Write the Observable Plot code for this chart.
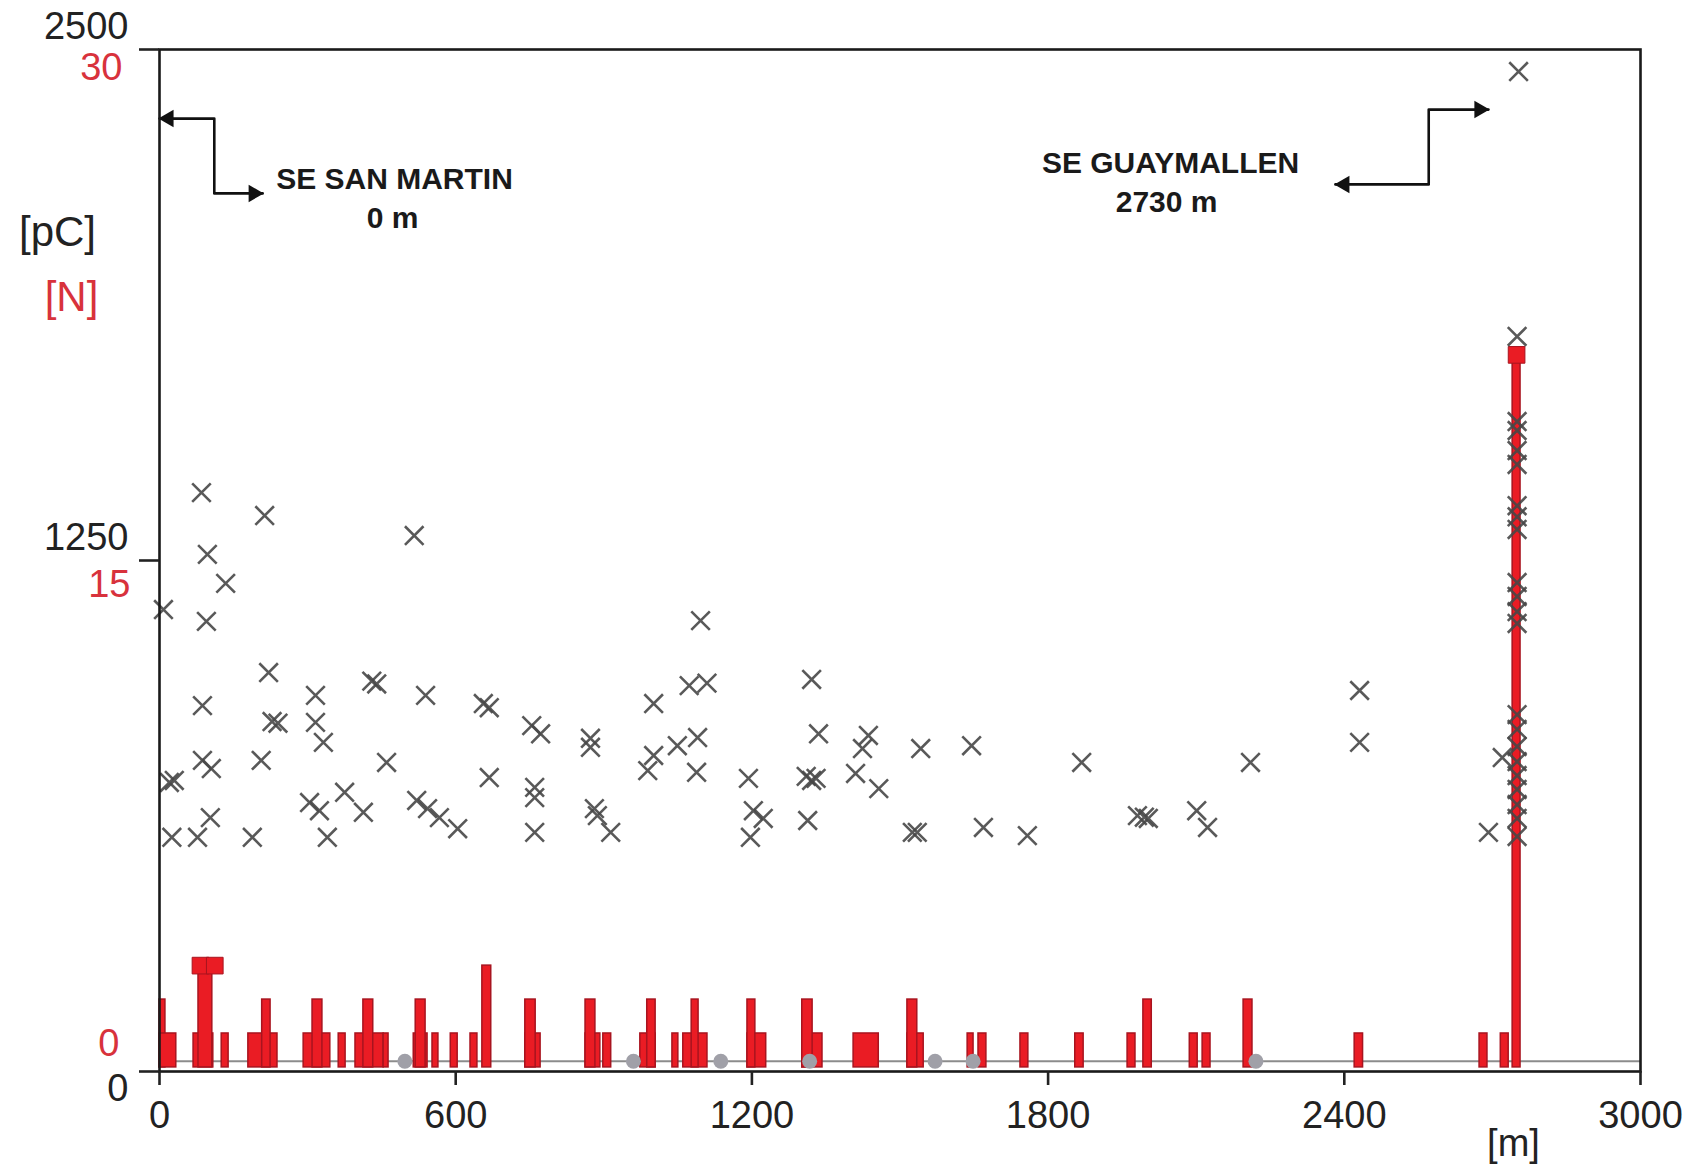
<!DOCTYPE html>
<html>
<head>
<meta charset="utf-8">
<script src="https://cdn.jsdelivr.net/npm/d3@7"></script>
<script src="https://cdn.jsdelivr.net/npm/@observablehq/plot@0.6"></script>
<style>
  html, body { margin: 0; padding: 0; background: #fff; }
  #chart svg { display: block; }
</style>
</head>
<body>
<div id="chart"></div>
<script>
// ---------- tick values ----------
const xTicks = [0, 600, 1200, 1800, 2400, 3000];
const pcTicks = [0, 1250, 2500];
const nTicks = [0, 15, 30];

// ---------- red bars: number of discharges [N] per location ----------
const barX1 = [0, 0, 69, 79, 126, 180, 208, 292, 310, 363, 397, 413, 454, 515, 519, 553, 590, 630, 654,
  741, 741, 863, 863, 899, 974, 988, 1039, 1061, 1078, 1191, 1191, 1302, 1302, 1406, 1515, 1515,
  1637, 1659, 1744, 1855, 1961, 1993, 2087, 2113, 2196, 2421, 2674, 2717, 2741];
const barX2 = [12, 34, 109, 107, 140, 239, 225, 346, 330, 377, 454, 433, 464, 543, 539, 565, 604, 644, 672,
  772, 762, 893, 883, 915, 1005, 1005, 1051, 1110, 1092, 1229, 1207, 1343, 1323, 1457, 1548, 1535,
  1649, 1675, 1760, 1872, 1977, 2010, 2103, 2129, 2214, 2438, 2690, 2733, 2757];
const barN = [2, 1, 1, 3, 1, 1, 2, 1, 2, 1, 1, 2, 1, 1, 2, 1, 1, 1, 3,
  1, 2, 1, 2, 1, 1, 2, 1, 1, 2, 1, 2, 1, 2, 1, 1, 2,
  1, 1, 1, 1, 1, 2, 1, 1, 2, 1, 1, 1, 21];
// square markers on top of the highest bars
const capX = [83, 112, 2749];
const capN = [3, 3, 21];

// ---------- discharge magnitudes [pC] ----------
const dischargeX = [85, 213, 516, 97, 134, 8, 95, 1096, 221, 430, 440, 1073, 1109, 1321, 316, 539, 656, 668,
  1001, 87, 228, 240, 316, 332, 754, 772, 873, 873, 1090, 1049, 1335, 1436, 1424, 87, 105, 206, 460,
  1001, 989, 1088, 20, 30, 668, 1193, 1310, 1321, 1330, 1410, 1457, 375, 304, 324, 413, 521, 543, 567,
  604, 760, 760, 760, 881, 887, 914, 1203, 1223, 1197, 1313, 103, 25, 77, 188, 340,
  1542, 1645, 1868, 2210, 2431, 2431, 1525, 1535, 1669, 1758, 1981, 2003, 1995, 2101, 2123, 2692, 2720,
  2753, 2750, 2750, 2750, 2750, 2750, 2750, 2750, 2750, 2750, 2750, 2750, 2750, 2750, 2750, 2750, 2750,
  2750, 2750, 2750, 2750, 2750];
const dischargePC = [1416, 1360, 1311, 1265, 1194, 1130, 1101, 1103, 976, 955, 948, 944, 950, 959, 920, 920, 900, 890,
  900, 895, 856, 852, 854, 805, 846, 826, 815, 793, 817, 797, 826, 822, 790, 761, 741, 761, 756,
  773, 736, 732, 707, 712, 719, 717, 722, 712, 717, 729, 692, 683, 658, 638, 634, 663, 643, 621,
  594, 695, 670, 585, 643, 626, 585, 638, 619, 573, 614, 621, 573, 573, 573, 573,
  790, 797, 756, 756, 932, 805, 585, 585, 597, 577, 626, 619, 622, 638, 597, 585, 768,
  2446, 1798, 1590, 1568, 1519, 1485, 1384, 1357, 1326, 1196, 1162, 1125, 1096, 873, 837, 795, 758,
  724, 690, 653, 619, 575];

// low-level detections lying on the threshold line
const lowX = [497, 960, 1137, 1317, 1571, 1648, 2221];
const lowPC = [25, 25, 25, 25, 25, 25, 25];
const thresholdPC = 25;

// ---------- annotations (in m / pC units) ----------
const sanMartinX = [0, 111, 111, 209];
const sanMartinY = [2331, 2331, 2148, 2148];
const guayX = [2382, 2571, 2571, 2692];
const guayY = [2170, 2170, 2353, 2353];
const noteText = ["SE SAN MARTIN", "0 m", "SE GUAYMALLEN", "2730 m"];
const noteX = [476, 472, 2048, 2040];
const noteY = [2182, 2087, 2221, 2126];

// ---------- secondary [N] axis mapped on the [pC] scale ----------
const pcMax = 2500, nMax = 30, nBase = 10;
const nToPC = n => nBase + n * (pcMax - nBase) / nMax;

const bars = barX1.map((x1, i) => ({x1, x2: barX2[i], n: barN[i]}));
const caps = capX.map((x, i) => ({x, n: capN[i]}));
const discharges = dischargeX.map((x, i) => ({x, pc: dischargePC[i]}));
const lows = lowX.map((x, i) => ({x, pc: lowPC[i]}));
const sanMartin = sanMartinX.map((x, i) => ({x, y: sanMartinY[i]}));
const guay = guayX.map((x, i) => ({x, y: guayY[i]}));
const notes = noteText.map((t, i) => ({t, x: noteX[i], y: noteY[i]}));
const arrowStarts = [sanMartin[0], guay[0]];
const arrowEnds = [sanMartin[sanMartin.length - 1], guay[guay.length - 1]];
const nLabel = new Map(nTicks.map(n => [nToPC(n), String(n)]));
const plain = d3.format("d");

const FONT = "'Liberation Sans', Arial, Helvetica, sans-serif";
const RED = "#ea1c24", RED_DARK = "#a8141f", RED_TEXT = "#d8323c", INK = "#222";
const TICK_FS = 38;

const chart = Plot.plot({
  width: 1695,
  height: 1166,
  marginLeft: 159,
  marginRight: 55,
  marginTop: 49,
  marginBottom: 95,
  x: {domain: [0, 3000]},
  y: {domain: [0, pcMax]},
  style: {fontFamily: FONT, background: "#fff", color: INK},
  marks: [
    Plot.ruleY([thresholdPC], {stroke: "#8c8c8c", strokeWidth: 2}),
    Plot.rect(bars, {x1: "x1", x2: "x2", y1: () => nBase, y2: d => nToPC(d.n),
      fill: RED, stroke: RED_DARK, strokeWidth: 1.5}),
    Plot.dot(caps, {x: "x", y: d => nToPC(d.n), symbol: "square", r: 9.4,
      fill: RED, stroke: RED_DARK, strokeWidth: 1}),
    Plot.dot(lows, {x: "x", y: "pc", r: 7.5, fill: "#a0a0a8"}),
    Plot.dot(discharges, {x: "x", y: "pc", symbol: "times", r: 8.5,
      stroke: "#474747", strokeWidth: 2.6, strokeOpacity: 0.9}),
    // annotation arrows
    Plot.line(sanMartin, {x: "x", y: "y", stroke: "#111", strokeWidth: 2.6}),
    Plot.line(guay, {x: "x", y: "y", stroke: "#111", strokeWidth: 2.6}),
    Plot.dot(arrowStarts, {x: "x", y: "y", symbol: "triangle", r: 6.5, rotate: -90, dx: 9, fill: "#111"}),
    Plot.dot(arrowEnds, {x: "x", y: "y", symbol: "triangle", r: 6.5, rotate: 90, dx: -9, fill: "#111"}),
    Plot.text(notes, {x: "x", y: "y", text: "t", fontSize: 30, fontWeight: "bold", fill: "#1a1a1a"}),
    Plot.frame({stroke: "#1a1a1a", strokeWidth: 2.6}),
    // x axis
    Plot.axisX({ticks: xTicks, tickFormat: plain, tickSize: 14, tickPadding: 16, fontSize: TICK_FS,
      label: null, color: INK, strokeWidth: 2.6}),
    // y axis ticks
    Plot.axisY({ticks: pcTicks, tickSize: 20, tickFormat: () => "", label: null, color: INK, strokeWidth: 2.6}),
    // black [pC] labels
    Plot.axisY({ticks: [1250, 2500], tickFormat: plain, tickSize: 0, tickPadding: 31, dy: -23,
      fontSize: TICK_FS, label: null, color: INK}),
    Plot.axisY({ticks: [0], tickFormat: plain, tickSize: 0, tickPadding: 31, dy: 17,
      fontSize: TICK_FS, label: null, color: INK}),
    // red [N] labels
    Plot.axisY({ticks: [nToPC(30)], tickFormat: d => nLabel.get(d), tickSize: 0, tickPadding: 37,
      dy: 18, fontSize: TICK_FS, label: null, color: RED_TEXT}),
    Plot.axisY({ticks: [nToPC(15)], tickFormat: d => nLabel.get(d), tickSize: 0, tickPadding: 29,
      dy: 26, fontSize: TICK_FS, label: null, color: RED_TEXT}),
    Plot.axisY({ticks: [nToPC(0)], tickFormat: d => nLabel.get(d), tickSize: 0, tickPadding: 40,
      dy: -24, fontSize: TICK_FS, label: null, color: RED_TEXT}),
    // axis titles
    Plot.text(["[pC]"], {frameAnchor: "top-left", textAnchor: "middle", lineAnchor: "middle",
      dx: -102, dy: 183, fontSize: 42, fill: INK}),
    Plot.text(["[N]"], {frameAnchor: "top-left", textAnchor: "middle", lineAnchor: "middle",
      dx: -88, dy: 248, fontSize: 42, fill: RED_TEXT}),
    Plot.text(["[m]"], {frameAnchor: "bottom-left", textAnchor: "middle", lineAnchor: "middle",
      dx: 1354, dy: 72, fontSize: 38, fill: INK})
  ]
});

document.getElementById("chart").appendChild(chart);
</script>
</body>
</html>
